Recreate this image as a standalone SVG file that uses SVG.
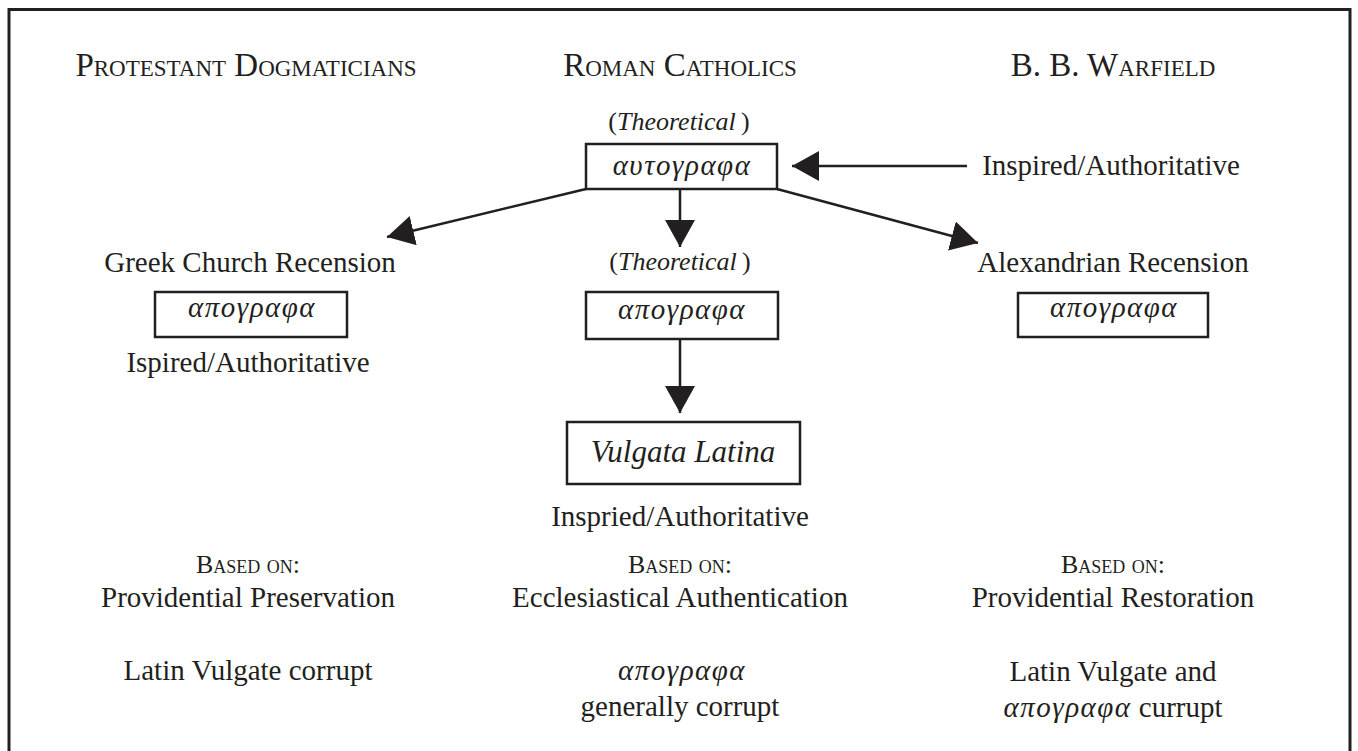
<svg xmlns="http://www.w3.org/2000/svg" width="1358" height="751" viewBox="0 0 1358 751">
  <style>
    text { font-family: "Liberation Serif", "Times New Roman", serif; fill: #231f20; text-anchor: middle; }
    .t { font-size: 29px; }
    .h { font-size: 33px; font-variant: small-caps; }
    .b { font-size: 26px; font-variant: small-caps; }
    .it { font-style: italic; }
    .theo { font-size: 26px; }
    .gk { font-size: 29px; font-style: italic; letter-spacing: 1.5px; }
    .box { fill: #ffffff; stroke: #231f20; stroke-width: 2.5; }
    .conn { stroke: #231f20; stroke-width: 2.5; fill: none; }
    .frame { fill: none; stroke: #231f20; stroke-width: 3; }
  </style>
  <defs>
    <marker id="ah" markerUnits="userSpaceOnUse" markerWidth="30" markerHeight="32" refX="27" refY="15" orient="auto">
      <path d="M0,0 L27,15 L0,30 Z" fill="#231f20"/>
    </marker>
  </defs>
  <rect width="1358" height="751" fill="#ffffff"/>
  <rect class="frame" x="9" y="9.5" width="1341" height="800"/>

  <g id="headers">
    <text class="h" x="246" y="76">Protestant Dogmaticians</text>
    <text class="h" x="680" y="76">Roman Catholics</text>
    <text class="h" x="1113" y="76">B. B. Warfield</text>
  </g>

  <g id="connectors">
    <line class="conn" x1="967" y1="166" x2="792" y2="166" marker-end="url(#ah)"/>
    <line class="conn" x1="586" y1="189" x2="387" y2="237" marker-end="url(#ah)"/>
    <line class="conn" x1="777" y1="189" x2="978" y2="243" marker-end="url(#ah)"/>
    <line class="conn" x1="680" y1="189" x2="680" y2="247" marker-end="url(#ah)"/>
    <line class="conn" x1="680" y1="339" x2="680" y2="413" marker-end="url(#ah)"/>
  </g>

  <g id="autographa">
    <text class="theo" x="679" y="130">(<tspan class="it">Theoretical</tspan>&#8201;)</text>
    <rect class="box" x="586" y="144" width="191" height="45"/>
    <text class="gk" x="682" y="175">αυτογραφα</text>
  </g>

  <g id="warfield-note">
    <text class="t" x="1111" y="175">Inspired/Authoritative</text>
  </g>

  <g id="greek-church">
    <text class="t" x="250" y="272">Greek Church Recension</text>
    <rect class="box" x="155" y="292" width="192" height="45"/>
    <text class="gk" x="252" y="317">απογραφα</text>
    <text class="t" x="248" y="372">Ispired/Authoritative</text>
  </g>

  <g id="rc-apographa">
    <text class="theo" x="680" y="270">(<tspan class="it">Theoretical</tspan>&#8201;)</text>
    <rect class="box" x="586" y="292" width="192" height="47"/>
    <text class="gk" x="682" y="319">απογραφα</text>
  </g>

  <g id="alexandrian">
    <text class="t" x="1113" y="272">Alexandrian Recension</text>
    <rect class="box" x="1018" y="293" width="190" height="44"/>
    <text class="gk" x="1114" y="317">απογραφα</text>
  </g>

  <g id="vulgata">
    <rect class="box" x="567" y="422" width="233" height="62"/>
    <text class="it" style="font-size:31px" x="683" y="462">Vulgata Latina</text>
    <text class="t" x="680" y="526">Inspried/Authoritative</text>
  </g>

  <g id="basis-left">
    <text class="b" x="248" y="573">Based on:</text>
    <text class="t" x="248" y="607">Providential Preservation</text>
    <text class="t" x="248" y="680">Latin Vulgate corrupt</text>
  </g>

  <g id="basis-center">
    <text class="b" x="680" y="573">Based on:</text>
    <text class="t" x="680" y="607">Ecclesiastical Authentication</text>
    <text class="gk" x="682" y="680">απογραφα</text>
    <text class="t" x="680" y="716">generally corrupt</text>
  </g>

  <g id="basis-right">
    <text class="b" x="1113" y="573">Based on:</text>
    <text class="t" x="1113" y="607">Providential Restoration</text>
    <text class="t" x="1113" y="681">Latin Vulgate and</text>
    <text class="t" x="1113" y="717"><tspan class="gk">απογραφα</tspan> currupt</text>
  </g>
</svg>
